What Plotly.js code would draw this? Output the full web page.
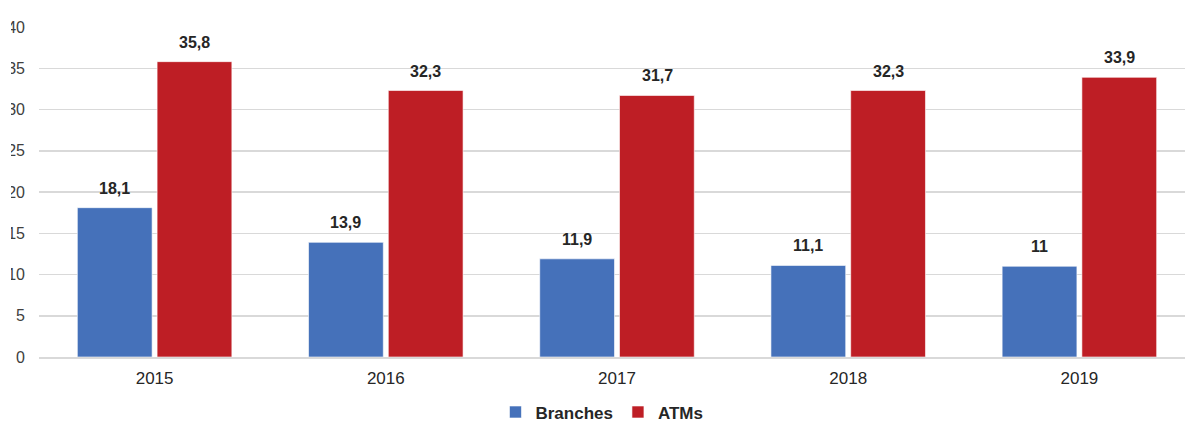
<!DOCTYPE html>
<html>
<head>
<meta charset="utf-8">
<script src="https://cdn.plot.ly/plotly-3.0.1.min.js"></script>
<style>
  html, body { margin: 0; padding: 0; background: #fff; overflow: hidden; width: 1185px; height: 422px; }
  #chart { position: absolute; left: -9px; top: 0; width: 1214px; height: 422px; }
  #crop { position: absolute; left: 0; top: 0; width: 11px; height: 422px; background: #fff; }
</style>
</head>
<body>
<div id="chart"></div>
<div id="crop"></div>
<script>
const years = ['2015', '2016', '2017', '2018', '2019'];
const branches = [18.1, 13.9, 11.9, 11.1, 11];
const atms = [35.8, 32.3, 31.7, 32.3, 33.9];
const seriesNames = ['Branches', 'ATMs'];
const yTicks = [0, 5, 10, 15, 20, 25, 30, 35, 40];

const BLUE = '#4571BA';
const RED = '#BE1E25';
const fmt = v => String(v).replace('.', ',');

const traces = [
  { type: 'bar', name: seriesNames[0], x: years, y: branches,
    marker: { color: BLUE, line: { color: 'rgba(255,255,255,0.6)', width: 1 } }, hoverinfo: 'skip' },
  { type: 'bar', name: seriesNames[1], x: years, y: atms,
    marker: { color: RED, line: { color: 'rgba(255,255,255,0.6)', width: 1 } }, hoverinfo: 'skip' }
];

const annotations = [];
const seriesVals = [branches, atms];
seriesVals.forEach((vals, si) => {
  vals.forEach((v, i) => {
    annotations.push({
      x: i, y: v, xref: 'x', yref: 'y',
      text: fmt(v), showarrow: false,
      xanchor: 'center', yanchor: 'bottom',
      xshift: si === 0 ? -40 : 40, yshift: 9,
      font: { family: 'Liberation Sans, Arial, sans-serif', size: 16, color: '#262626', weight: 'bold' }
    });
  });
});

const layout = {
  width: 1214, height: 422,
  margin: { l: 48, r: 10, t: 27, b: 65, pad: 0, autoexpand: false },
  paper_bgcolor: '#ffffff', plot_bgcolor: '#ffffff',
  font: { family: 'Liberation Sans, Arial, sans-serif', color: '#404040' },
  barmode: 'group',
  bargap: 0.31,
  bargroupgap: 0.0625,
  showlegend: true,
  legend: {
    orientation: 'h', x: 0.487, xanchor: 'center', y: -0.168, yanchor: 'middle',
    font: { size: 17, color: '#262626', weight: 'bold' },
    itemwidth: 30, traceorder: 'normal', tracegroupgap: 0
  },
  xaxis: {
    type: 'category',
    range: [-0.5, years.length - 0.5],
    tickfont: { size: 17, color: '#262626' },
    showgrid: false, zeroline: false,
    showline: true, linecolor: '#D9D9D9', linewidth: 1.5,
    ticks: '', ticklabelstandoff: 5
  },
  yaxis: {
    range: [0, 40],
    tickvals: yTicks,
    ticktext: yTicks.map(String),
    tickfont: { size: 16, color: '#404040' },
    showgrid: true, gridcolor: '#D9D9D9', gridwidth: 1.5,
    zeroline: false, showline: false,
    ticks: '', ticklabelstandoff: 13
  },
  annotations: annotations
};

Plotly.newPlot('chart', traces, layout, { staticPlot: true, displayModeBar: false });
</script>
</body>
</html>
